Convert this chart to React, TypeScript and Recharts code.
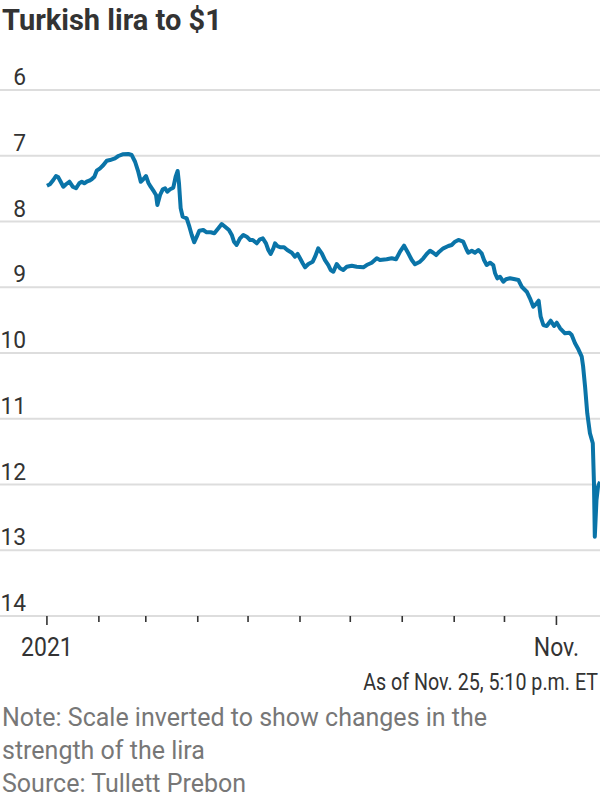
import React from 'react';
import { LineChart, Line, XAxis, YAxis, CartesianGrid } from 'recharts';

// Days since Jan. 1, 2021
const dayOffsets = [
  0, 1.8, 3.8, 5.4, 6.8, 8.2, 9.8, 11.4, 13.4, 15.4, 17.4, 19.3, 20.8, 22.3, 23.7, 25.3, 26.7, 28.3, 29.7,
  31.7, 33.7, 35.7, 37.6, 40.6, 42.6, 45.2, 48.6, 50.6, 52.6, 54.5, 56.0, 57.5, 59.1, 60.5, 61.9, 63.9,
  65.1, 65.9, 67.5, 69.1, 70.5, 71.8, 73.5, 75.4, 76.8, 78.0, 78.8, 79.8, 81.0, 83.4, 85.0, 86.4, 87.9,
  89.4, 90.9, 93.3, 95.3, 97.7, 99.9, 102.3, 104.3, 106.3, 108.6, 110.3, 111.6, 113.2, 115.2, 117.2,
  119.2, 121.2, 122.8, 125.2, 127.1, 128.8, 130.7, 132.1, 133.5, 135.1, 136.1, 137.5, 139.5, 141.5,
  143.4, 146.1, 148.0, 149.6, 151.0, 152.6, 154.0, 156.0, 158.6, 160.0, 161.9, 164.0, 165.9, 167.9,
  169.3, 170.9, 172.9, 174.9, 176.8, 178.9, 181.9, 184.8, 188.8, 190.8, 193.8, 196.8, 198.7, 202.7,
  205.7, 208.3, 210.7, 213.1, 215.6, 217.7, 219.6, 222.6, 224.6, 226.6, 228.6, 230.5, 232.2, 234.1,
  236.5, 239.5, 241.5, 243.5, 245.5, 248.4, 250.5, 251.4, 253.5, 255.4, 257.4, 259.4, 260.8, 262.4,
  264.4, 266.3, 267.4, 268.7, 270.3, 272.3, 273.9, 276.3, 279.3, 281.3, 283.3, 286.3, 288.2, 290.2,
  292.2, 293.4, 294.6, 296.2, 298.2, 300.6, 302.6, 304.2, 306.2, 309.1, 311.7, 313.1, 315.1, 317.1,
  319.1, 319.9, 321.1, 322.4, 324.0, 325.7, 326.4, 326.9, 327.9, 328.8, 330.0,
];

// Turkish lira per US dollar
const rates = [
  7.456, 7.434, 7.369, 7.308, 7.328, 7.395, 7.471, 7.434, 7.395, 7.471, 7.495, 7.419, 7.395, 7.419, 7.395,
  7.379, 7.358, 7.319, 7.227, 7.191, 7.141, 7.075, 7.065, 7.039, 7.004, 6.978, 6.973, 6.989, 7.091, 7.243,
  7.395, 7.358, 7.308, 7.41, 7.471, 7.547, 7.597, 7.749, 7.597, 7.51, 7.495, 7.547, 7.51, 7.486, 7.319,
  7.232, 7.419, 7.799, 7.927, 7.951, 8.079, 8.205, 8.316, 8.231, 8.14, 8.129, 8.164, 8.164, 8.179, 8.103,
  8.038, 8.079, 8.129, 8.205, 8.307, 8.357, 8.256, 8.205, 8.231, 8.281, 8.281, 8.332, 8.271, 8.256, 8.332,
  8.433, 8.494, 8.408, 8.332, 8.373, 8.392, 8.392, 8.433, 8.475, 8.535, 8.494, 8.56, 8.636, 8.697, 8.646,
  8.611, 8.535, 8.408, 8.484, 8.586, 8.662, 8.738, 8.764, 8.646, 8.712, 8.738, 8.688, 8.672, 8.688, 8.697,
  8.662, 8.627, 8.56, 8.586, 8.575, 8.56, 8.575, 8.459, 8.368, 8.484, 8.586, 8.651, 8.611, 8.56, 8.494,
  8.444, 8.475, 8.51, 8.459, 8.408, 8.373, 8.357, 8.307, 8.281, 8.307, 8.433, 8.475, 8.444, 8.475, 8.433,
  8.484, 8.586, 8.662, 8.627, 8.662, 8.788, 8.864, 8.84, 8.916, 8.879, 8.864, 8.879, 8.89, 8.992, 9.068,
  9.168, 9.296, 9.244, 9.205, 9.448, 9.574, 9.589, 9.509, 9.589, 9.539, 9.624, 9.7, 9.691, 9.726, 9.852,
  9.944, 10.056, 10.198, 10.513, 10.917, 11.221, 11.373, 11.982, 12.794, 12.236, 12.033, 11.957,
];

const yTicks = [6, 7, 8, 9, 10, 11, 12, 13, 14];
const monthStartDays = [0, 31, 59, 90, 120, 151, 181, 212, 243, 273, 304];
const monthLabels: Record<number, string> = { 0: '2021', 304: 'Nov.' };

const titleText = 'Turkish lira to $1';
const asOfText = 'As of Nov. 25, 5:10 p.m. ET';
const noteLines = [
  'Note: Scale inverted to show changes in the',
  'strength of the lira',
  'Source: Tullett Prebon',
];

const data = dayOffsets.map((d, i) => ({ day: d, rate: rates[i] }));

const FONT = "Roboto, 'Noto Sans', sans-serif";
const TEXT = '#333333';

const YTick = (props: any) => {
  const { y, payload } = props;
  return (
    <text
      transform={`translate(26, ${y - 5}) scale(0.95, 1)`}
      fontSize={24}
      fill={TEXT}
      fontFamily={FONT}
      textAnchor="end"
    >
      {payload.value}
    </text>
  );
};

const XTick = (props: any) => {
  const { x, y, payload } = props;
  const label = monthLabels[payload.value];
  return (
    <g>
      <line x1={x} x2={x} y1={y} y2={y + (label ? 9 : 6)} stroke={TEXT} strokeWidth={1.6} />
      {label ? (
        <text
          transform={`translate(${x}, ${y + 40}) scale(0.92, 1)`}
          fontSize={25}
          fill={TEXT}
          fontFamily={FONT}
          textAnchor="middle"
        >
          {label}
        </text>
      ) : null}
    </g>
  );
};

export default function App() {
  return (
    <div style={{ position: 'absolute', left: 0, top: 0, width: 600, height: 800, background: '#fff' }}>
      <div style={{ position: 'absolute', left: 0, top: 0 }}>
        <LineChart width={600} height={670} data={data} margin={{ top: 90, right: 0, bottom: 0, left: 0 }}>
          <CartesianGrid vertical={false} stroke="#dddddd" strokeWidth={2} />
          <XAxis
            dataKey="day"
            type="number"
            domain={[-28, 330]}
            ticks={monthStartDays}
            interval={0}
            axisLine={false}
            tickLine={false}
            tickSize={0}
            tickMargin={0}
            height={54}
            allowDataOverflow
            tick={<XTick />}
          />
          <YAxis
            type="number"
            domain={[6, 14]}
            reversed
            mirror
            ticks={yTicks}
            interval={0}
            width={30}
            axisLine={false}
            tickLine={false}
            tickSize={0}
            tickMargin={0}
            allowDataOverflow
            tick={<YTick />}
          />
          <Line
            type="linear"
            dataKey="rate"
            stroke="#0a74a8"
            strokeWidth={4}
            strokeLinejoin="round"
            dot={false}
            isAnimationActive={false}
          />
        </LineChart>
      </div>
      <svg
        width={600}
        height={800}
        style={{ position: 'absolute', left: 0, top: 0, pointerEvents: 'none' }}
      >
        <text
          transform="translate(2, 30) scale(1, 1)"
          fontFamily={FONT}
          fontWeight={700}
          fontSize={29}
          fill={TEXT}
        >
          {titleText}
        </text>
        <text
          transform="translate(598, 690) scale(0.82, 1)"
          fontFamily={FONT}
          fontSize={24}
          fill={TEXT}
          textAnchor="end"
        >
          {asOfText}
        </text>
        {noteLines.map((l, i) => (
          <text key={l} x={2} y={726 + i * 33} fontFamily={FONT} fontSize={25} fill="#777777">
            {l}
          </text>
        ))}
      </svg>
    </div>
  );
}
